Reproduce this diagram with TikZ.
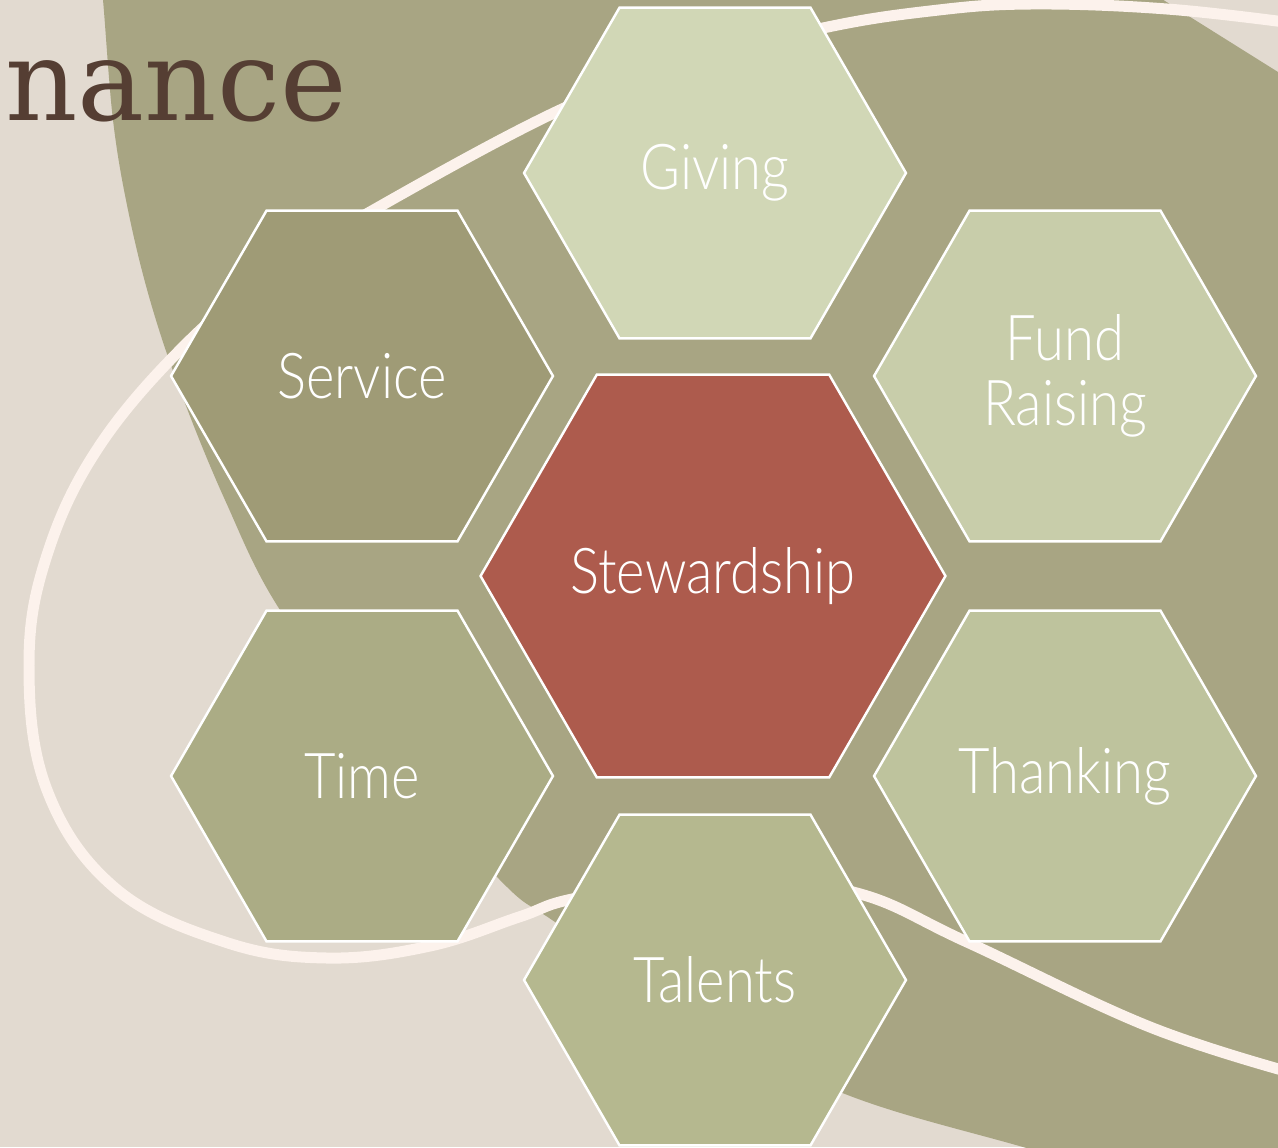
\documentclass[tikz,border=0pt]{standalone}
\usepackage{fontspec}
\setmainfont{Lato}
\newfontfamily\hexfont{Lato Light}[FakeStretch=0.86]
\newfontfamily\titlefont{DejaVu Serif}
\usetikzlibrary{shapes.geometric}
\definecolor{bgbeige}{HTML}{E2DAD0}
\definecolor{olivebg}{HTML}{A8A583}
\definecolor{swirlc}{HTML}{FCF2EC}
\definecolor{titlebrown}{HTML}{553E33}
\definecolor{cGiving}{HTML}{D1D7B6}
\definecolor{cService}{HTML}{9F9B76}
\definecolor{cFund}{HTML}{C8CDAA}
\definecolor{cSteward}{HTML}{AD5B4D}
\definecolor{cTime}{HTML}{ABAC85}
\definecolor{cThank}{HTML}{BEC39D}
\definecolor{cTalent}{HTML}{B5B88F}
\begin{document}
\begin{tikzpicture}[x=0.02cm,y=-0.02cm,
  hexbox/.style={regular polygon, regular polygon sides=6, draw=white, line width=1.4pt,
    inner sep=0pt, minimum size=7.64cm},
  bighex/.style={hexbox, minimum size=9.3cm},
  hextext/.style={text=white, align=center, inner sep=0pt,
    font=\hexfont\fontsize{36}{37}\selectfont},
  swirlline/.style={draw=swirlc, line width=0.22cm}]
\useasboundingbox (0,0) rectangle (1278,1147);
\clip (0,0) rectangle (1278,1147);
\fill[bgbeige] (0,0) rectangle (1278,1147);
% large olive backdrop
\fill[olivebg] plot[smooth, tension=0.6] coordinates {(98,-40) (103,0) (113,120) (128,210) (150,300) (180,390) (225,500) (280,610) (385,750) (500,880) (555,922) (690,1012) (840,1092) (1023,1147) (1200,1195)}
  -- (1400,1260) -- (1400,140) -- (1330,105) -- (1278,72) -- (1187,15) -- (1140,-15) -- cycle;
% cream swirl
\draw[swirlline] plot[smooth, tension=0.65] coordinates {(1300,24) (1167,9) (1030,4) (930,11) (823,28) (690,62) (560,110) (370,212) (275,272) (190,340) (100,445) (47,555) (29,665) (47,790) (115,888) (225,942) (327,958) (430,946) (519,917) (577,898) (715,877) (853,892) (967,942) (1150,1027) (1300,1075)};
% title fragment
\node[anchor=base west, inner sep=0pt, text=titlebrown, font=\titlefont\fontsize{64}{64}\selectfont] (title) at (5,120) {nance};
% hexagons
\node[hexbox, fill=cGiving, label={[hextext]center:Giving}] (giving) at (715,173) {};
\node[hexbox, fill=cService, label={[hextext]center:Service}] (service) at (362,376) {};
\node[hexbox, fill=cFund, label={[hextext]center:Fund\\Raising}] (fund) at (1065,376) {};
\node[bighex, fill=cSteward, label={[hextext]center:Stewardship}] (steward) at (713,576) {};
\node[hexbox, fill=cTime, label={[hextext]center:Time}] (time) at (362,776) {};
\node[hexbox, fill=cThank, label={[hextext]center:Thanking}] (thank) at (1065,776) {};
\node[hexbox, fill=cTalent, label={[hextext]center:Talents}] (talent) at (715,980) {};
\end{tikzpicture}
\end{document}
